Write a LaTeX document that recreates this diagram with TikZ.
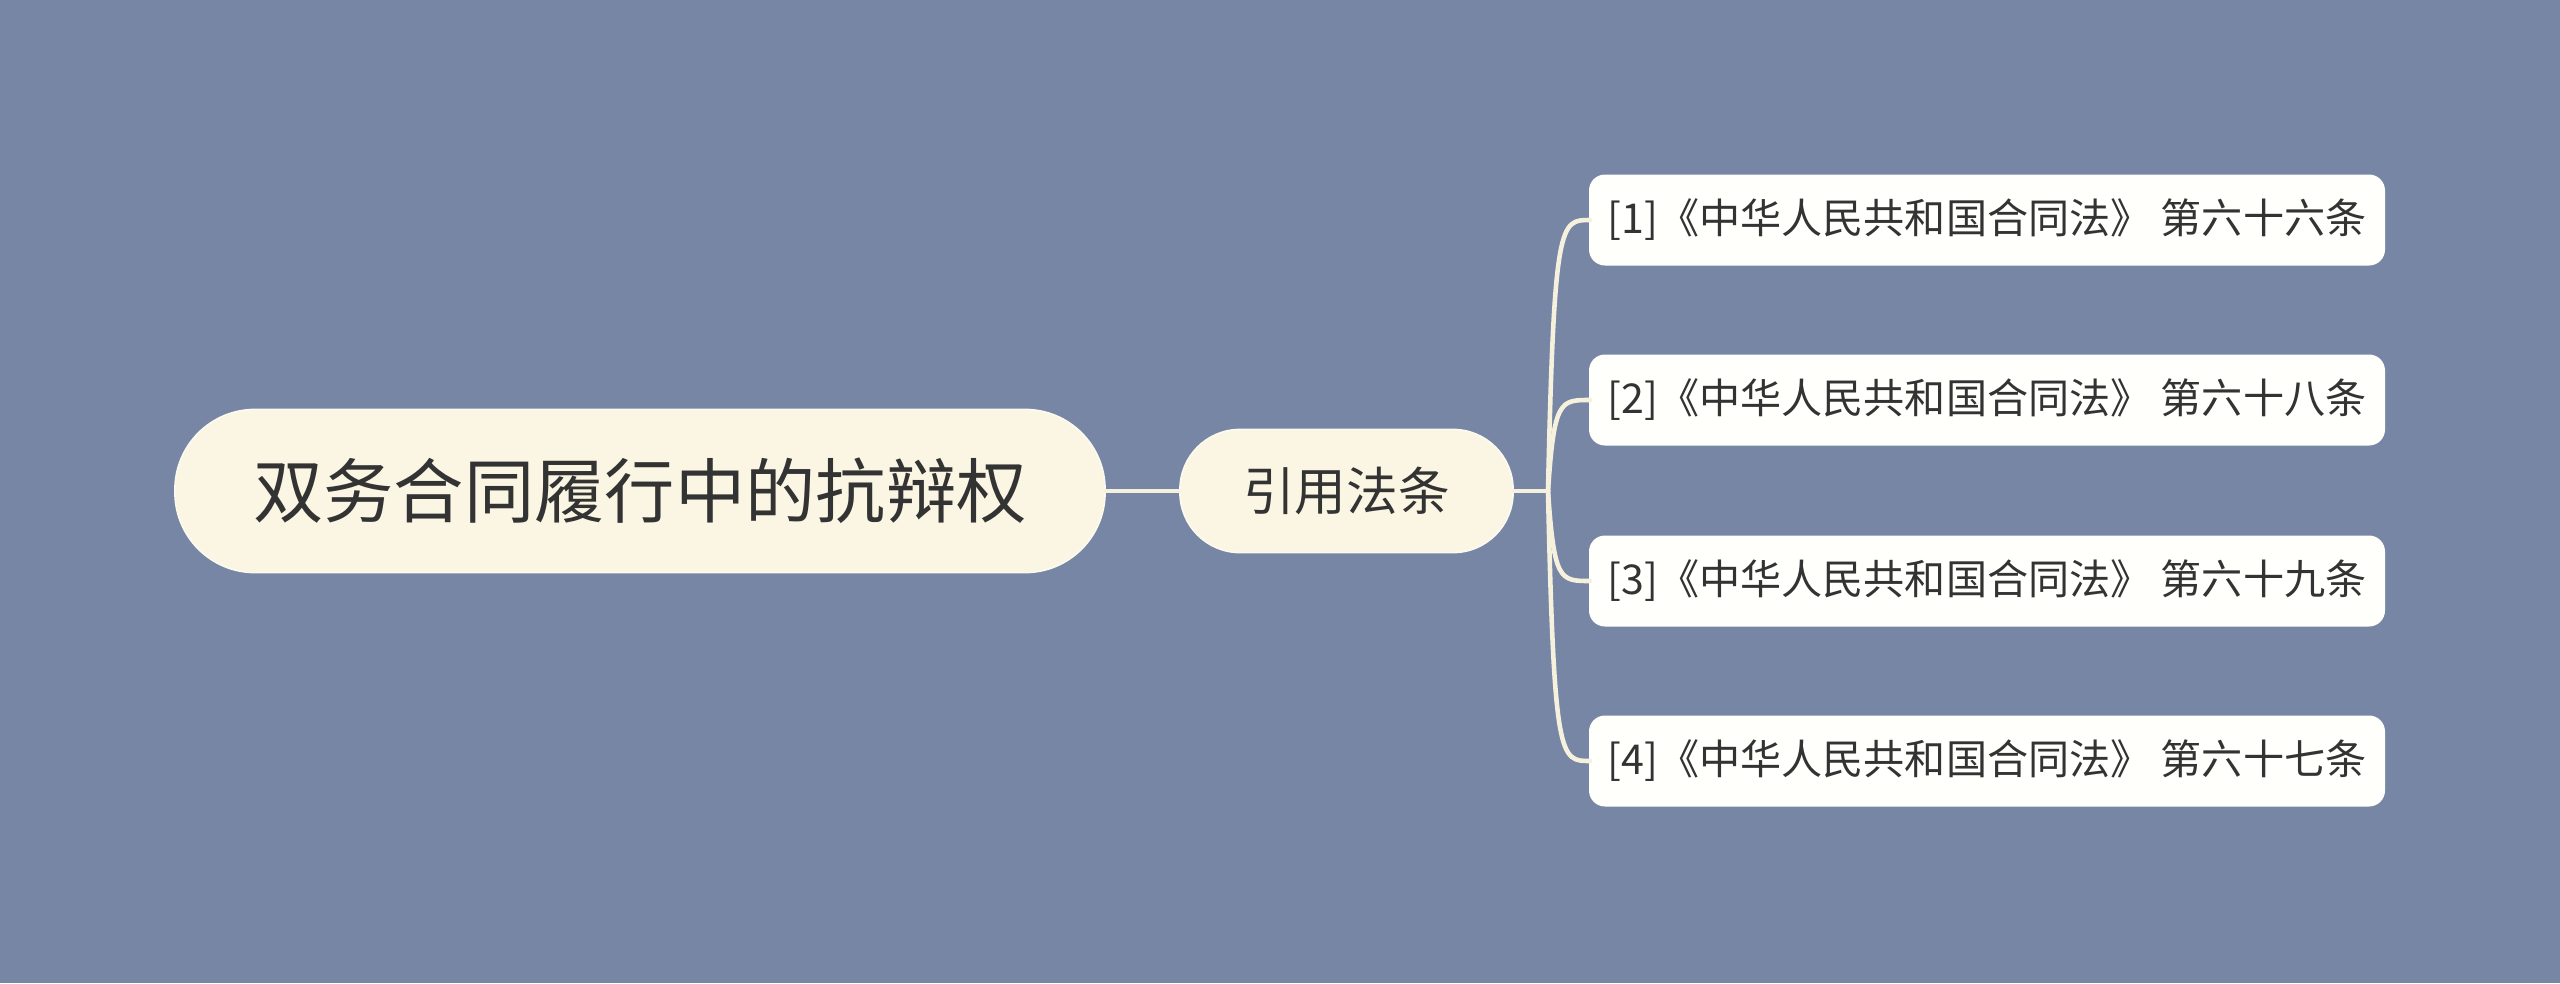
\documentclass[tikz,border=0pt]{standalone}
\usepackage{fontspec}
\setmainfont{Noto Sans CJK SC}
\definecolor{mapbg}{HTML}{7886A6}
\definecolor{cream}{HTML}{FAF6E3}
\definecolor{leafwhite}{HTML}{FFFFFC}
\definecolor{linkcol}{HTML}{F6F1DD}
\definecolor{inkcol}{HTML}{333333}
\tikzset{
  rootbox/.style={fill=cream, draw=cream!60!white, line width=0.5pt, rounded corners=8mm, minimum width=9.30cm, minimum height=1.63cm, text=inkcol, font=\fontsize{20pt}{24pt}\selectfont, inner sep=0pt},
  midbox/.style={fill=cream, draw=cream!60!white, line width=0.5pt, rounded corners=6mm, minimum width=3.33cm, minimum height=1.23cm, text=inkcol, font=\fontsize{14.7pt}{18pt}\selectfont, inner sep=0pt},
  leafbox/.style={fill=leafwhite, rounded corners=1.6mm, minimum width=7.96cm, minimum height=0.91cm, text=inkcol, font=\fontsize{11.7pt}{14pt}\selectfont, inner sep=0pt},
  link/.style={line width=1.3pt, draw=linkcol, line cap=round},
}
\begin{document}
\begin{tikzpicture}
\fill[mapbg] (0,0) rectangle (25.60,9.83);
\useasboundingbox (0,0) rectangle (25.60,9.83);
\node[rootbox] (root) at (6.40,4.92) {双务合同履行中的抗辩权};
\node[midbox] (cite) at (13.465,4.92) {引用法条};
\node[leafbox] (law1) at (19.87,7.63) {[1]《中华人民共和国合同法》 第六十六条};
\node[leafbox] (law2) at (19.87,5.83) {[2]《中华人民共和国合同法》 第六十八条};
\node[leafbox] (law3) at (19.87,4.02) {[3]《中华人民共和国合同法》 第六十九条};
\node[leafbox] (law4) at (19.87,2.22) {[4]《中华人民共和国合同法》 第六十七条};
\coordinate (fork) at (15.48,4.92);
\draw[link] (root.east) -- (cite.west);
\draw[link] (cite.east) -- (fork);
\foreach \leaf in {law1,law2,law3,law4}
  \draw[link] (fork) .. controls ([xshift=0.6mm]fork |- \leaf.west) and ([xshift=1.2mm]fork |- \leaf.west) .. ([xshift=0.5pt]\leaf.west);
\end{tikzpicture}
\end{document}
